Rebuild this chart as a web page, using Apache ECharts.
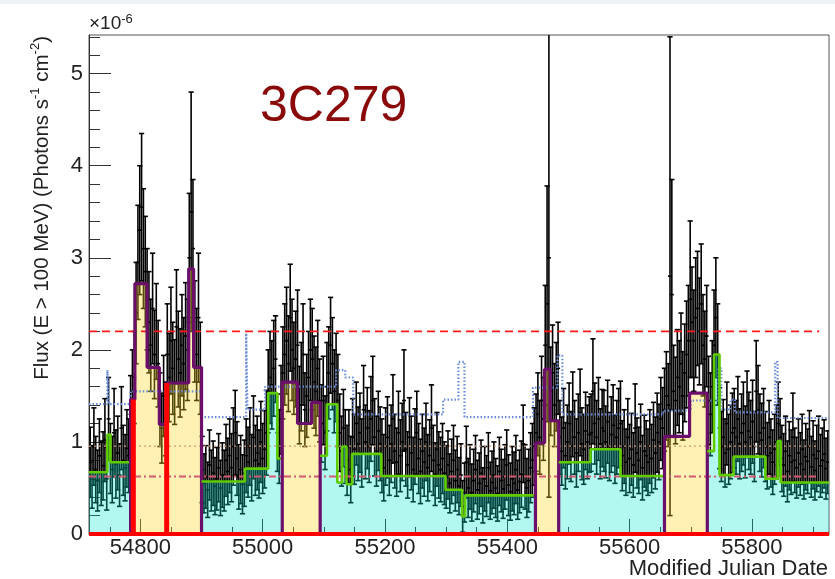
<!DOCTYPE html>
<html>
<head>
<meta charset="utf-8">
<title>3C279 light curve</title>
<script src="https://cdn.jsdelivr.net/npm/echarts@6/dist/echarts.min.js"></script>
<style>
  html, body { margin: 0; padding: 0; background: #ffffff; }
  #chart { width: 835px; height: 579px; }
</style>
</head>
<body>
<div id="chart"></div>
<script>
// ---- Daily-ish flux points (units of 1e-6 ph s^-1 cm^-2), one every 3 days ----
const mjdStart = 54718;
const mjdStep = 3;

const flux = [
  0.78, 0.62, 0.95, 0.70, 0.58, 0.85, 0.66, 0.74, 1.02, 0.60,
  1.25,
  0.82, 0.70, 1.10, 0.76, 0.88, 0.64, 1.15, 0.80, 0.72, 0.93, 0.85,
  1.30, 1.55, 1.70,
  2.40, 2.95, 3.30, 3.55, 3.10, 2.85, 2.55,
  2.30, 2.05, 2.45, 1.95, 2.20, 1.85,
  1.35, 1.15, 1.50, 1.25,
  1.95, 1.70, 2.10, 1.80, 1.65, 2.25, 1.90, 1.75, 2.05, 1.85, 2.15, 2.00,
  3.00, 3.50, 3.10,
  2.20, 1.95, 2.35, 1.80,
  0.70, 0.55, 0.62, 0.48, 0.75, 0.58, 0.66, 0.52, 0.60, 0.72, 0.50, 0.64, 0.58, 0.80, 0.68, 0.85, 0.72, 0.95, 1.10, 0.82, 0.62, 0.70, 0.54, 0.66,
  0.85, 0.78, 0.95, 0.72, 1.05, 0.80, 0.88, 0.76, 1.00, 0.82, 0.92, 1.10,
  1.55, 1.70, 1.62, 1.80, 1.90,
  1.10, 0.95, 1.35,
  1.75, 1.95, 2.10, 1.85, 2.35, 2.00, 1.80, 1.90,
  2.05, 1.40, 1.60, 1.95, 1.35, 1.50, 1.70, 2.00,
  1.90, 1.65, 1.55, 1.80, 1.45,
  1.20, 1.45, 1.10,
  1.60, 1.75, 2.05, 1.85, 1.55, 1.70,
  1.45, 1.10, 0.90,
  1.15, 0.95,
  0.80, 0.95, 0.70,
  1.05, 0.92, 1.20, 0.98, 1.10, 0.88, 1.35, 1.00, 1.15, 0.95, 1.25, 1.45, 1.05, 0.90, 1.12, 0.98,
  0.85, 0.72, 0.95, 1.05, 0.80, 0.98, 1.25, 0.90, 0.78, 1.10, 0.85, 1.00, 1.45, 0.92, 0.75, 1.05, 0.88, 0.70,
  0.95, 1.10, 0.82, 0.68, 0.90, 0.78, 1.00, 0.72, 0.85, 1.15, 0.80, 0.65, 0.92, 0.75, 0.70, 0.82, 0.66,
  0.62, 0.75, 0.55, 0.68, 0.80, 0.58, 0.70, 0.52, 0.64,
  0.30, 0.45,
  0.78, 0.50, 0.62, 0.45, 0.58, 0.70, 0.48, 0.55, 0.66, 0.42, 0.60, 0.52, 0.72, 0.47, 0.56, 0.64, 0.50, 0.44, 0.68,
  0.58, 0.49, 0.62, 0.75, 0.53, 0.46, 0.60, 0.55, 0.70, 0.48, 0.57, 0.65, 0.98, 0.62, 0.50, 0.58, 0.72, 0.80, 0.95,
  1.10, 1.30, 1.05, 1.45, 1.25,
  2.05, 2.50, 3.00,
  1.55, 1.75, 1.40, 1.60, 1.80,
  1.05, 0.90, 1.15, 0.85, 1.00, 1.20, 0.95, 1.30, 1.05, 0.88, 1.10, 1.32, 0.98, 0.92, 1.12, 1.00, 1.08,
  1.10, 1.55, 1.20, 1.05, 1.25, 0.98, 1.15, 1.12, 1.00, 1.22, 0.95, 1.08, 1.18, 0.92, 1.05, 1.15,
  1.20, 0.85, 0.95, 0.78, 1.05, 0.82, 0.92, 0.75, 1.15, 0.88, 0.80, 1.00, 0.72, 0.90, 0.85, 0.78, 0.95, 0.82, 1.02, 0.88, 1.10, 1.00, 1.25, 1.15,
  1.35, 1.50, 1.40, 2.80, 2.60, 1.55, 1.45, 1.70, 1.60, 1.85, 1.50, 1.75, 1.95, 2.10,
  2.55, 2.30, 2.10, 2.35, 2.45, 2.20, 2.50, 2.05, 1.90, 2.15,
  1.45, 1.30, 1.60,
  2.05, 2.35, 1.95,
  1.15, 0.95, 1.05, 0.88, 1.20, 0.92, 1.00, 1.10,
  1.15, 1.05, 1.25, 0.98, 1.10, 1.20, 1.00, 1.30, 1.12, 1.05, 1.22, 0.95, 1.55, 1.35, 1.10, 1.02, 1.15,
  0.95, 0.85, 1.05, 0.88, 0.78, 0.92, 1.00,
  1.20, 1.05,
  0.82, 0.75, 0.90, 0.68, 0.85, 0.78, 1.05, 0.80, 0.72, 0.88, 0.76, 0.92, 0.70, 0.84, 0.79, 0.95, 0.73, 0.86, 0.69, 0.82, 0.90, 0.74, 0.80, 0.87, 0.71, 0.78
];

const fluxErr = [
  0.38, 0.34, 0.42, 0.36, 0.33, 0.40, 0.35, 0.37, 0.45, 0.34,
  0.45,
  0.38, 0.36, 0.48, 0.37, 0.40, 0.34, 0.45, 0.38, 0.36, 0.42, 0.40,
  0.42, 0.45, 0.50,
  0.55, 0.62, 0.70, 0.80, 0.65, 0.60, 0.55,
  0.55, 0.50, 0.60, 0.48, 0.52, 0.47,
  0.40, 0.38, 0.44, 0.40,
  0.55, 0.48, 0.58, 0.50, 0.46, 0.62, 0.52, 0.48, 0.55, 0.50, 0.58, 0.55,
  0.70, 1.30, 0.75,
  0.55, 0.50, 0.70, 0.50,
  0.36, 0.32, 0.34, 0.30, 0.38, 0.33, 0.35, 0.31, 0.34, 0.37, 0.30, 0.35, 0.33, 0.39, 0.36, 0.40, 0.37, 0.42, 0.46, 0.40, 0.35, 0.37, 0.32, 0.36,
  0.40, 0.38, 0.42, 0.36, 0.45, 0.38, 0.40, 0.37, 0.44, 0.38, 0.42, 0.46,
  0.45, 0.50, 0.48, 0.52, 0.47,
  0.42, 0.40, 0.48,
  0.50, 0.55, 0.58, 0.52, 0.58, 0.55, 0.50, 0.52,
  0.60, 0.42, 0.48, 0.55, 0.40, 0.45, 0.50, 0.55,
  0.55, 0.50, 0.48, 0.52, 0.45,
  0.42, 0.48, 0.40,
  0.48, 0.50, 0.52, 0.50, 0.45, 0.48,
  0.50, 0.42, 0.38,
  0.42, 0.40,
  0.38, 0.40, 0.36,
  0.42, 0.38, 0.45, 0.40, 0.43, 0.37, 0.48, 0.40, 0.44, 0.39, 0.46, 0.48, 0.42, 0.38, 0.43, 0.40,
  0.40, 0.36, 0.42, 0.44, 0.38, 0.42, 0.48, 0.40, 0.37, 0.45, 0.39, 0.42, 0.55, 0.40, 0.36, 0.43, 0.40, 0.35,
  0.41, 0.45, 0.38, 0.35, 0.40, 0.37, 0.42, 0.36, 0.39, 0.47, 0.38, 0.34, 0.40, 0.36, 0.35, 0.38, 0.34,
  0.34, 0.37, 0.32, 0.35, 0.38, 0.33, 0.36, 0.31, 0.34,
  0.28, 0.32,
  0.39, 0.32, 0.35, 0.31, 0.34, 0.37, 0.32, 0.33, 0.36, 0.30, 0.35, 0.33, 0.38, 0.31, 0.34, 0.36, 0.32, 0.30, 0.37,
  0.34, 0.32, 0.35, 0.38, 0.33, 0.31, 0.35, 0.34, 0.37, 0.32, 0.34, 0.36, 0.42, 0.35, 0.32, 0.34, 0.38, 0.40, 0.42,
  0.42, 0.45, 0.40, 0.48, 0.45,
  0.65, 1.28, 2.60,
  0.48, 0.52, 0.45, 0.48, 0.50,
  0.40, 0.37, 0.43, 0.36, 0.40, 0.44, 0.38, 0.46, 0.40, 0.37, 0.42, 0.47, 0.39, 0.38, 0.42, 0.40, 0.41,
  0.42, 0.57, 0.44, 0.40, 0.45, 0.38, 0.42, 0.44, 0.39, 0.45, 0.37, 0.41, 0.44, 0.37, 0.40, 0.43,
  0.46, 0.38, 0.40, 0.36, 0.42, 0.37, 0.39, 0.35, 0.48, 0.38, 0.36, 0.41, 0.35, 0.39, 0.38, 0.36, 0.40, 0.37, 0.41, 0.39, 0.43, 0.41, 0.45, 0.44,
  0.45, 0.48, 0.45, 2.60, 1.25, 0.50, 0.47, 0.52, 0.50, 0.55, 0.48, 0.53, 0.58, 0.60,
  0.85, 0.60, 0.55, 0.65, 0.62, 0.58, 0.65, 0.55, 0.52, 0.55,
  0.48, 0.45, 0.50,
  0.60, 0.65, 0.55,
  0.44, 0.38, 0.41, 0.37, 0.45, 0.38, 0.40, 0.43,
  0.43, 0.40, 0.46, 0.38, 0.42, 0.45, 0.39, 0.47, 0.42, 0.40, 0.45, 0.38, 0.55, 0.48, 0.42, 0.40, 0.43,
  0.38, 0.36, 0.40, 0.37, 0.35, 0.38, 0.40,
  0.45, 0.42,
  0.36, 0.34, 0.38, 0.33, 0.37, 0.35, 0.48, 0.35, 0.33, 0.37, 0.34, 0.38, 0.32, 0.36, 0.35, 0.39, 0.33, 0.37, 0.32, 0.36, 0.38, 0.34, 0.35, 0.37, 0.33, 0.34
];

// ---- Bayesian blocks: start MJD, level, and whether the block belongs to a flare ----
const blockStart = [54716, 54746, 54751, 54784, 54791, 54811, 54831, 54843, 54879, 54887,
                    54900, 54971, 55009, 55024, 55032, 55057, 55080, 55094, 55105, 55122,
                    55130, 55137, 55146, 55194, 55299, 55326, 55331, 55446, 55461, 55470,
                    55484, 55536, 55585, 55657, 55698, 55727, 55738, 55747, 55770, 55822,
                    55842, 55847];
const blockLevel = [0.67, 1.08, 0.78, 1.46, 2.72, 1.81, 1.19, 1.64, 2.88, 1.81,
                    0.57, 0.71, 1.53, 0.82, 1.65, 1.20, 1.43, 0.85, 1.41, 0.56,
                    0.95, 0.54, 0.87, 0.63, 0.48, 0.19, 0.42, 0.99, 1.79, 1.23,
                    0.78, 0.92, 0.63, 1.06, 1.53, 0.90, 1.95, 0.64, 0.84, 0.60,
                    1.01, 0.56];
const blockFlare = [0, 0, 0, 1, 1, 1, 1, 1, 1, 1,
                    0, 0, 0, 0, 1, 1, 1, 0, 0, 0,
                    0, 0, 0, 0, 0, 0, 0, 1, 1, 1,
                    0, 0, 0, 1, 1, 0, 0, 0, 0, 0,
                    0, 0];
const blockEnd = 55926;

// flare-onset markers (MJD, flux)
const onsetMjd = [54788.5, 54843];
const onsetLevel = [1.46, 1.64];

// ---- running estimate (blue dotted step) ----
const runStart = [54716, 54746, 54749, 54784, 54900, 54973, 54975, 55004, 55120, 55135,
                  55148, 55295, 55320, 55330, 55442, 55482, 55490, 55655, 55700, 55745,
                  55750, 55765, 55772, 55838, 55842];
const runLevel = [1.41, 1.78, 1.41, 1.55, 1.27, 2.18, 1.35, 1.60, 1.78, 1.70,
                  1.30, 1.46, 1.87, 1.27, 1.59, 1.94, 1.30, 1.34, 1.45, 1.80,
                  1.35, 1.46, 1.32, 1.87, 1.26];

// ---- reference levels ----
const flareThreshold = 2.2;
const meanLevel = 0.955;
const baseLevel = 0.625;
const refLineEnd = 55910;

// ---- axes ----
const xMin = 54716, xMax = 55926;
const yMin = 0, yMax = 5.42;
const xMajorTicks = [54800, 55000, 55200, 55400, 55600, 55800];
const xMinorTicks = [54750, 54850, 54900, 54950, 55050, 55100, 55150, 55250, 55300, 55350,
                     55450, 55500, 55550, 55650, 55700, 55750, 55850, 55900];
const yMajorTicks = [0, 1, 2, 3, 4, 5];

const FONT = '"Liberation Sans", Arial, Helvetica, sans-serif';

// ---------------------------------------------------------------
const nPts = Math.min(flux.length, fluxErr.length);
const points = [];
for (let i = 0; i < nPts; i++) {
  points.push([mjdStart + i * mjdStep, flux[i], fluxErr[i]]);
}

const yMinorTicks = [];
for (let k = 1; k <= 27; k++) {
  if (k % 5 !== 0) yMinorTicks.push(+(k * 0.2).toFixed(1));
}

// group contiguous blocks into quiet / flare runs
const runs = [];
for (let k = 0; k < blockStart.length; k++) {
  const end = k + 1 < blockStart.length ? blockStart[k + 1] : blockEnd;
  const blk = [blockStart[k], end, blockLevel[k]];
  const last = runs[runs.length - 1];
  if (last && last.flare === blockFlare[k]) last.blocks.push(blk);
  else runs.push({ flare: blockFlare[k], blocks: [blk] });
}

function stepPoints(blocks) {
  const pts = [];
  blocks.forEach(b => { pts.push([b[0], b[2]]); pts.push([b[1], b[2]]); });
  return pts;
}

function lineSeries(data, lineStyle, extra) {
  return Object.assign({
    type: 'line',
    data: data,
    showSymbol: false,
    symbol: 'none',
    silent: true,
    animation: false,
    emphasis: { disabled: true },
    lineStyle: lineStyle,
    z: 4
  }, extra || {});
}

const series = [];

// error bars
series.push({
  type: 'custom',
  data: points,
  clip: true,
  silent: true,
  animation: false,
  z: 2,
  encode: { x: 0, y: 1 },
  renderItem: function (params, api) {
    const x = api.value(0), v = api.value(1), e = api.value(2);
    const top = api.coord([x, v + e]);
    const bot = api.coord([x, Math.max(v - e, 0)]);
    const mid = api.coord([x, v]);
    const cap = 2.6;
    const st = { stroke: '#000000', lineWidth: 1.6 };
    return {
      type: 'group',
      children: [
        { type: 'line', shape: { x1: top[0], y1: top[1], x2: bot[0], y2: bot[1] }, style: st },
        { type: 'line', shape: { x1: top[0] - cap, y1: top[1], x2: top[0] + cap, y2: top[1] }, style: st },
        { type: 'line', shape: { x1: bot[0] - cap, y1: bot[1], x2: bot[0] + cap, y2: bot[1] }, style: st },
        { type: 'line', shape: { x1: mid[0] - 2, y1: mid[1], x2: mid[0] + 2, y2: mid[1] }, style: st }
      ]
    };
  }
});

// translucent fills under the blocks
runs.forEach(r => {
  series.push(lineSeries(stepPoints(r.blocks), { width: 0, opacity: 0 }, {
    areaStyle: { color: r.flare ? 'rgba(255,214,36,0.34)' : 'rgba(0,232,208,0.30)', opacity: 1, origin: 'start' },
    z: 3
  }));
});

// reference levels
series.push(lineSeries([[xMin, meanLevel], [refLineEnd, meanLevel]],
  { color: '#d09a78', width: 1.4, type: [2, 3] }, { z: 5 }));
series.push(lineSeries([[xMin, baseLevel], [refLineEnd, baseLevel]],
  { color: '#d45a70', width: 2, type: [7, 3, 2, 3] }, { z: 5 }));
series.push(lineSeries([[xMin, flareThreshold], [refLineEnd, flareThreshold]],
  { color: '#ff1a1a', width: 1.8, type: [8, 5] }, { z: 5 }));

// running estimate
const runPts = [];
for (let k = 0; k < runStart.length; k++) {
  const end = k + 1 < runStart.length ? runStart[k + 1] : blockEnd;
  runPts.push([runStart[k], runLevel[k]]);
  runPts.push([end, runLevel[k]]);
}
series.push(lineSeries(runPts, { color: '#6a8cd8', width: 2.2, type: [1.5, 2] }, { z: 6 }));

// block outlines
runs.forEach(r => {
  const pts = stepPoints(r.blocks);
  if (r.flare) {
    const s = r.blocks[0][0], e = r.blocks[r.blocks.length - 1][1];
    pts.unshift([s, 0]);
    pts.push([e, 0]);
    series.push(lineSeries(pts, { color: '#6b0f6b', width: 3.2 }, { z: 7 }));
  } else {
    series.push(lineSeries(pts, { color: '#5fcc00', width: 2.6 }, { z: 7 }));
  }
});

// flare onsets and the zero line
for (let k = 0; k < onsetMjd.length; k++) {
  series.push(lineSeries([[onsetMjd[k], 0], [onsetMjd[k], onsetLevel[k]]],
    { color: '#ff0000', width: 5 }, { z: 8 }));
}
series.push(lineSeries([[xMin, 0], [xMax, 0]], { color: '#ff0000', width: 4 }, { z: 8, clip: false }));

const tickColor = '#333333';
const plainNumber = v => String(Math.round(v));
const option = {
  animation: false,
  backgroundColor: '#ffffff',
  grid: {
    left: 89, right: 6, top: 35, bottom: 45,
    show: true, borderColor: '#555555', borderWidth: 1, backgroundColor: 'transparent'
  },
  xAxis: [
    {
      type: 'value', min: xMin, max: xMax, position: 'bottom',
      axisLine: { show: true, lineStyle: { color: tickColor } },
      axisTick: { show: true, inside: true, length: 15, customValues: xMajorTicks, lineStyle: { color: tickColor } },
      axisLabel: { customValues: xMajorTicks, formatter: plainNumber, fontSize: 22, color: '#222222', margin: 3, fontFamily: FONT },
      splitLine: { show: false }
    },
    {
      type: 'value', min: xMin, max: xMax, position: 'bottom',
      axisLine: { show: false },
      axisTick: { show: true, inside: true, length: 7, customValues: xMinorTicks, lineStyle: { color: tickColor } },
      axisLabel: { show: false },
      splitLine: { show: false }
    }
  ],
  yAxis: [
    {
      type: 'value', min: yMin, max: yMax, position: 'left',
      axisLine: { show: true, lineStyle: { color: tickColor } },
      axisTick: { show: true, inside: true, length: 22, customValues: yMajorTicks, lineStyle: { color: tickColor } },
      axisLabel: { customValues: yMajorTicks, formatter: plainNumber, fontSize: 22, color: '#222222', margin: 6, fontFamily: FONT },
      splitLine: { show: false }
    },
    {
      type: 'value', min: yMin, max: yMax, position: 'left',
      axisLine: { show: false },
      axisTick: { show: true, inside: true, length: 11, customValues: yMinorTicks, lineStyle: { color: tickColor } },
      axisLabel: { show: false },
      splitLine: { show: false }
    }
  ],
  series: series,
  graphic: [
    { type: 'rect', left: 0, top: 0, shape: { width: 835, height: 4 }, style: { fill: '#eef3f6' }, silent: true },
    {
      type: 'text', x: 260, y: 107, silent: true,
      style: { text: '3C279', fill: '#8a0a0a', fontSize: 50, fontFamily: FONT, align: 'left', verticalAlign: 'middle' }
    },
    {
      type: 'text', x: 89, y: 24, silent: true,
      style: {
        text: '{a|\u00d710}{s|-6}',
        align: 'left', verticalAlign: 'middle', fill: '#222222',
        rich: {
          a: { fontSize: 19, lineHeight: 22, fontFamily: FONT, fill: '#222222' },
          s: { fontSize: 13, lineHeight: 12, verticalAlign: 'top', fontFamily: FONT, fill: '#222222' }
        }
      }
    },
    {
      type: 'text', x: 42, y: 36, rotation: Math.PI / 2, silent: true,
      style: {
        text: '{a|Flux (E > 100 MeV) (Photons s}{s|-1}{a| cm}{s|-2}{a|)}',
        align: 'right', verticalAlign: 'middle', fill: '#222222',
        rich: {
          a: { fontSize: 20.5, lineHeight: 26, fontFamily: FONT, fill: '#222222' },
          s: { fontSize: 13, lineHeight: 14, verticalAlign: 'top', fontFamily: FONT, fill: '#222222' }
        }
      }
    },
    {
      type: 'text', x: 828, y: 569, silent: true,
      style: { text: 'Modified Julian Date', fill: '#222222', fontSize: 22, fontFamily: FONT, align: 'right', verticalAlign: 'middle' }
    }
  ]
};

const chart = echarts.init(document.getElementById('chart'), null, { renderer: 'canvas' });
chart.setOption(option);
</script>
</body>
</html>
